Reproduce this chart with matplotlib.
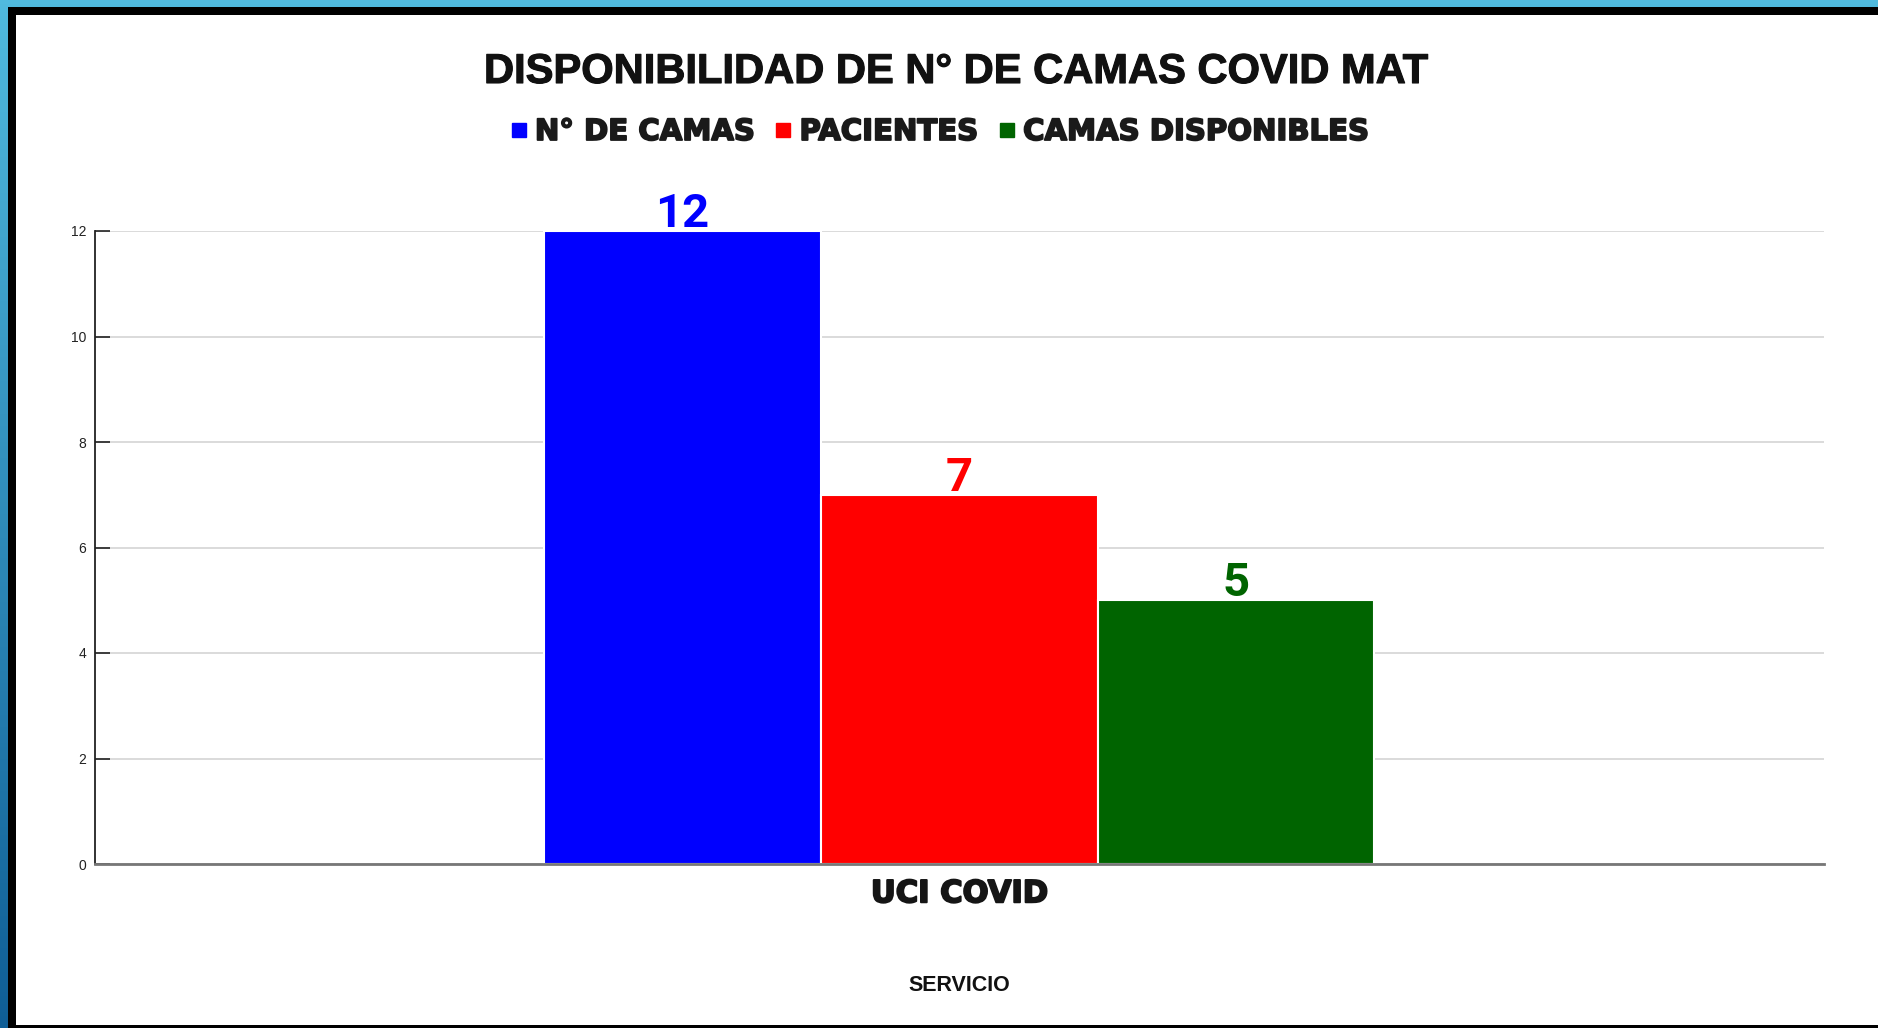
import matplotlib
matplotlib.use("Agg")
import matplotlib.pyplot as plt
import numpy as np
from matplotlib.patches import Rectangle
from matplotlib.lines import Line2D
from matplotlib.colors import LinearSegmentedColormap
import matplotlib.patheffects as pe

W, H = 1878, 1028

categories = ["UCI COVID"]
series_names = ["N° DE CAMAS", "PACIENTES", "CAMAS DISPONIBLES"]
series_values = [[12], [7], [5]]
series_colors = ["#0000FF", "#FF0000", "#006400"]
y_ticks = [0, 2, 4, 6, 8, 10, 12]
title = "DISPONIBILIDAD DE N° DE CAMAS COVID MAT"
x_label = "SERVICIO"

fig = plt.figure(figsize=(W / 100, H / 100), dpi=100)

# background frame (screenshot border)
bg = fig.add_axes([0, 0, 1, 1], zorder=-10)
grad = np.linspace(0, 1, 256).reshape(-1, 1)
cmap = LinearSegmentedColormap.from_list("b", ["#50bade", "#0f5e96"])
bg.imshow(grad, aspect="auto", cmap=cmap, extent=[0, 1, 0, 1], origin="upper")
bg.set_axis_off()

def px_rect(x0, y0, x1, y1, color):
    fig.add_artist(Rectangle((x0 / W, 1 - y1 / H), (x1 - x0) / W, (y1 - y0) / H,
                             transform=fig.transFigure, facecolor=color,
                             edgecolor="none", zorder=-5))

px_rect(8, 7, W + 5, H + 5, "black")
px_rect(16, 15, W + 5, 1025, "white")

heavy = [pe.withStroke(linewidth=1.4, foreground="#151515")]

ax = fig.add_axes([94.5 / W, (H - 864) / H, (1824 - 94.5) / W, (864 - 231) / H])
ax.set_facecolor("white")

x = np.arange(len(categories))
width = 0.16
offsets = [-width, 0, width]
for name, vals, col, off in zip(series_names, series_values, series_colors, offsets):
    bars = ax.bar(x + off, vals, width, color=col, edgecolor="white", linewidth=1.5,
                  label=name, zorder=3)
    for b, v in zip(bars, vals):
        ax.annotate(str(v), (b.get_x() + b.get_width() / 2, v), xytext=(0, 3),
                    textcoords="offset points", ha="center", va="baseline",
                    fontsize=34, fontweight="bold", family="Roboto", color=col,
                    zorder=5)

ax.set_xlim(-0.5, 0.5)
ax.set_ylim(0, 12)
ax.set_yticks(y_ticks)
ax.set_yticklabels([str(t) for t in y_ticks], family="Liberation Sans", fontsize=10,
                   color="#222222")
ax.tick_params(axis="y", direction="in", length=11, width=1.2, pad=6, color="#222222")
ax.set_xticks(x)
ax.set_xticklabels(categories, family="DejaVu Sans", fontweight="bold", fontsize=22,
                   color="#151515")
for t in ax.get_xticklabels():
    t.set_path_effects(heavy)
ax.tick_params(axis="x", length=0, pad=11)
ax.grid(axis="y", color="#d4d4d4", linewidth=1.2, zorder=0)
for s in ["top", "right"]:
    ax.spines[s].set_visible(False)
ax.spines["left"].set_color("#222222")
ax.spines["left"].set_linewidth(1.3)
ax.spines["bottom"].set_color("#777777")
ax.spines["bottom"].set_linewidth(2)
ax.spines["bottom"].set_zorder(4)

ax.set_xlabel(x_label, family="Liberation Sans", fontweight="bold", fontsize=15.5,
              labelpad=48, color="#111111")

t = fig.text(955 / W, 1 - 72 / H, title, ha="center", va="center", family="Liberation Sans",
             fontweight="bold", fontsize=30, color="#111111")
t.set_path_effects([pe.withStroke(linewidth=0.8, foreground="#111111")])

handles = [Line2D([0], [0], marker="s", linestyle="none", markersize=9.5,
                  markerfacecolor=c, markeredgecolor=c) for c in series_colors]
leg = fig.legend(handles, series_names, loc="center", bbox_to_anchor=(940 / W, 1 - 132 / H),
                 ncol=3, frameon=False, handlelength=0.5, handletextpad=0.3,
                 columnspacing=0.75,
                 prop={"family": "DejaVu Sans", "weight": "bold", "size": 21})
for tx in leg.get_texts():
    tx.set_color("#1a1a1a")
    tx.set_path_effects([pe.withStroke(linewidth=1.3, foreground="#1a1a1a")])

fig.savefig("out.png", dpi=100)
